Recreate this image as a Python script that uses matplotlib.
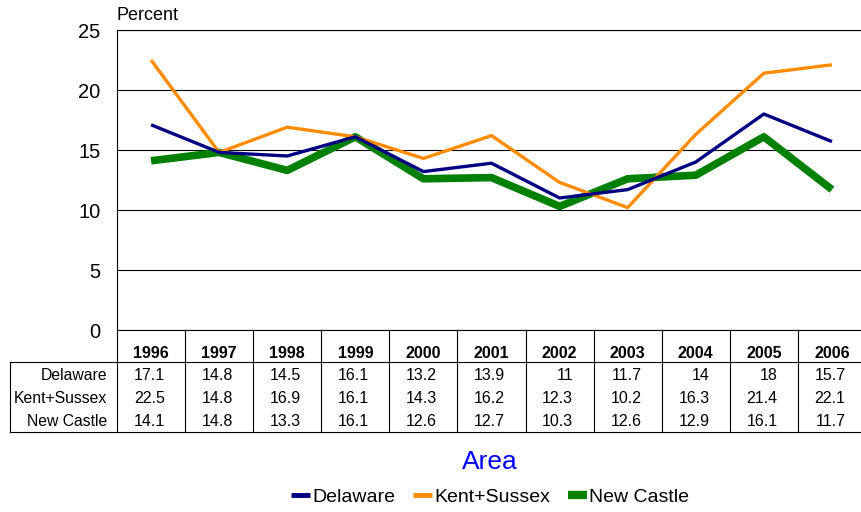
import matplotlib
matplotlib.use("Agg")
import matplotlib.pyplot as plt
import numpy as np

plt.rcParams['font.family'] = ['Liberation Sans', 'DejaVu Sans']

years = ['1996', '1997', '1998', '1999', '2000', '2001', '2002', '2003', '2004', '2005', '2006']
delaware = [17.1, 14.8, 14.5, 16.1, 13.2, 13.9, 11, 11.7, 14, 18, 15.7]
kent_sussex = [22.5, 14.8, 16.9, 16.1, 14.3, 16.2, 12.3, 10.2, 16.3, 21.4, 22.1]
new_castle = [14.1, 14.8, 13.3, 16.1, 12.6, 12.7, 10.3, 12.6, 12.9, 16.1, 11.7]
series_names = ['Delaware', 'Kent+Sussex', 'New Castle']
series = [delaware, kent_sussex, new_castle]
colors = ['#000080', '#FF8C00', '#008000']
widths = [2.4, 2.4, 5.5]

W, H = 861, 512
fig = plt.figure(figsize=(W / 100, H / 100), dpi=100)

# pixel geometry
left, right = 117, 866
top, bottom = 30, 330
ax = fig.add_axes([left / W, 1 - bottom / H, (right - left) / W, (bottom - top) / H])

x = np.arange(len(years))
# green (thick) first so the thin lines sit on top
order = [2, 1, 0]
handles = {}
for i in order:
    h, = ax.plot(x, series[i], color=colors[i], lw=widths[i], solid_capstyle='butt', zorder=3)
    handles[i] = h

ax.set_xlim(-0.5, len(years) - 0.5)
ax.set_ylim(0, 25)
ax.set_yticks([0, 5, 10, 15, 20, 25])
ax.tick_params(axis='y', length=0, pad=12, labelsize=14.5)
ax.set_xticks([])
ax.yaxis.grid(True, color='black', lw=0.8)
ax.set_axisbelow(True)
ax.spines['right'].set_visible(False)
ax.spines['left'].set_color('black')
ax.spines['top'].set_linewidth(0.8)
ax.spines['bottom'].set_linewidth(0.8)
ax.text(0, 1.02, 'Percent', transform=ax.transAxes, ha='left', va='bottom', fontsize=13)

# data table below
t_top, t_bot = 330, 432
tab = fig.add_axes([left / W, 1 - t_bot / H, (right - left) / W, (t_bot - t_top) / H])
tab.set_xlim(-0.5, len(years) - 0.5)
tab.set_ylim(t_bot - t_top, 0)
tab.axis('off')
px = (right - left) / len(years)
label_left = -0.5 - (left - 10) / px
row_edges = [0, 32, 56, 79, 102]
kw = dict(color='black', lw=0.8, clip_on=False)
for xi in np.arange(len(years) + 1) - 0.5:
    tab.plot([xi, xi], [0, row_edges[-1]], **kw)
tab.plot([label_left, len(years) - 0.5], [row_edges[1]] * 2, **kw)
tab.plot([label_left, len(years) - 0.5], [row_edges[-1]] * 2, **kw)
tab.plot([label_left, label_left], [row_edges[1], row_edges[-1]], **kw)
for j, yr in enumerate(years):
    tab.text(j, 23, yr, ha='center', va='center', fontsize=11.5, fontweight='bold')
for r, (name, vals) in enumerate(zip(series_names, series)):
    yc = (row_edges[r + 1] + row_edges[r + 2]) / 2 + 1
    tab.text(-0.64, yc, name, ha='right', va='center', fontsize=11.3, clip_on=False)
    for j, v in enumerate(vals):
        tab.text(j + 0.2, yc, f'{v:g}', ha='right', va='center', fontsize=11.5)

# legend
fig.text(490 / W, 1 - 462 / H, 'Area', color='#0000FF', fontsize=19, ha='center', va='center')
leg = fig.legend([handles[i] for i in range(3)], series_names, loc='center',
                 bbox_to_anchor=(490 / W, 1 - 497 / H), ncol=3, frameon=False,
                 fontsize=14, handlelength=1.0, handletextpad=0.1, columnspacing=0.9)
for lh, lw in zip(leg.get_lines(), [3.5, 3.5, 6]):
    lh.set_linewidth(lw)

fig.savefig('out.png', dpi=100)
